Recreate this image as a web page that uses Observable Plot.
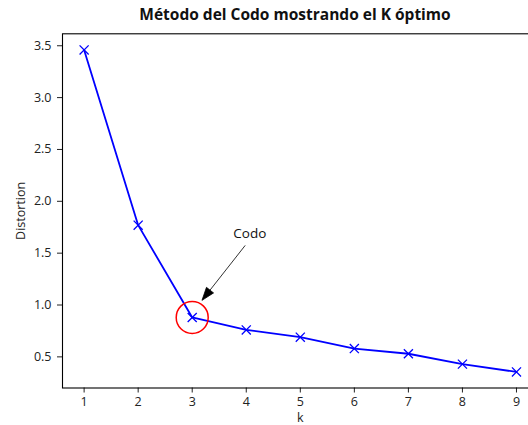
<!DOCTYPE html>
<html>
<head>
<meta charset="utf-8">
<script src="https://cdn.jsdelivr.net/npm/d3@7"></script>
<script src="https://cdn.jsdelivr.net/npm/@observablehq/plot@0.6"></script>
<style>
  html, body { margin: 0; padding: 0; background: #fff; }
  #wrap { width: 528px; height: 425px; overflow: hidden; position: relative; }
  #title { height: 26px; line-height: 29px; font-family: "Open Sans", sans-serif; font-weight: 700; font-size: 15.5px; color: #111; text-align: center; padding-left: 52px; padding-right: 0; box-sizing: border-box; width: 538px; white-space: nowrap; }
</style>
</head>
<body>
<div id="wrap">
  <div id="title">Método del Codo mostrando el K óptimo</div>
  <div id="chart"></div>
</div>
<script>
const titleText = "Método del Codo mostrando el K óptimo";
const ks = [1, 2, 3, 4, 5, 6, 7, 8, 9];
const distortions = [3.46, 1.77, 0.88, 0.76, 0.69, 0.58, 0.53, 0.43, 0.355];
const xTicks = [1, 2, 3, 4, 5, 6, 7, 8, 9];
const yTicks = [0.5, 1.0, 1.5, 2.0, 2.5, 3.0, 3.5];
const elbowK = [3];
const elbowValue = [0.88];
const annotationLabel = ["Codo"];
const annotationTextX = [3.76];
const annotationTextY = [1.65];
const arrowTailX = [3.99];
const arrowTailY = [1.57];
const arrowTipX = [3.19];
const arrowTipY = [1.04];

document.getElementById("title").textContent = titleText;

const data = ks.map((k, i) => ({k, d: distortions[i]}));
const span = d3.max(distortions) - d3.min(distortions);
const yDomain = [d3.min(distortions) - 0.05 * span, d3.max(distortions) + 0.05 * span];
const xSpan = d3.max(ks) - d3.min(ks);
const xDomain = [d3.min(ks) - 0.05 * xSpan, d3.max(ks) + 0.05 * xSpan];

const elbow = elbowK.map((k, i) => ({k, d: elbowValue[i]}));
const ann = annotationLabel.map((t, i) => ({
  t, tx: annotationTextX[i], ty: annotationTextY[i],
  x1: arrowTailX[i], y1: arrowTailY[i], x2: arrowTipX[i], y2: arrowTipY[i]
}));

const headLen = 13, headHalf = 4.5;

function arrowMark(index, scales) {
  const g = d3.create("svg:g");
  for (const a of ann) {
    const X1 = scales.x(a.x1), Y1 = scales.y(a.y1);
    const X2 = scales.x(a.x2), Y2 = scales.y(a.y2);
    const dx = X2 - X1, dy = Y2 - Y1, L = Math.hypot(dx, dy);
    const ux = dx / L, uy = dy / L;
    const bx = X2 - ux * headLen, by = Y2 - uy * headLen;
    g.append("line").attr("x1", X1).attr("y1", Y1).attr("x2", bx).attr("y2", by)
      .attr("stroke", "#333").attr("stroke-width", 1);
    g.append("path")
      .attr("d", `M${X2},${Y2}L${bx - uy * headHalf},${by + ux * headHalf}L${bx + uy * headHalf},${by - ux * headHalf}Z`)
      .attr("fill", "#000").attr("stroke", "#000").attr("stroke-width", 0.8);
  }
  return g.node();
}

const chart = Plot.plot({
  width: 528,
  height: 399,
  marginTop: 7.3,
  marginBottom: 37.5,
  marginLeft: 62,
  marginRight: -9.6,
  style: {fontFamily: "'Open Sans', sans-serif", fontSize: "12.5px", color: "#222", background: "#fff"},
  x: {domain: xDomain},
  y: {domain: yDomain},
  marks: [
    Plot.axisX({ticks: xTicks, tickSize: 5, tickPadding: 4, tickFormat: d3.format("d"), fontSize: 12.5,
      label: null}),
    Plot.axisY({ticks: yTicks, tickSize: 5, tickPadding: 6, tickFormat: d3.format(".1f"), fontSize: 12.5,
      label: "Distortion", labelAnchor: "center", labelOffset: 46, labelArrow: "none"}),
    Plot.text(["k"], {frameAnchor: "bottom", dy: 29.5, lineAnchor: "middle", fontSize: 12.5, fill: "#222", text: d => d}),
    Plot.frame({stroke: "#000", strokeWidth: 1.1}),
    Plot.line(data, {x: "k", y: "d", stroke: "#0000ff", strokeWidth: 1.8}),
    Plot.dot(data, {x: "k", y: "d", symbol: "times", r: 4.2, stroke: "#0000ff", strokeWidth: 1.3}),
    Plot.dot(elbow, {x: "k", y: "d", r: 16, stroke: "#ff0000", strokeWidth: 1.5, fill: "none"}),
    arrowMark,
    Plot.text(ann, {x: "tx", y: "ty", text: "t", textAnchor: "start", lineAnchor: "bottom", fontSize: 13.5, fill: "#111"})
  ]
});
document.getElementById("chart").appendChild(chart);
</script>
</body>
</html>
